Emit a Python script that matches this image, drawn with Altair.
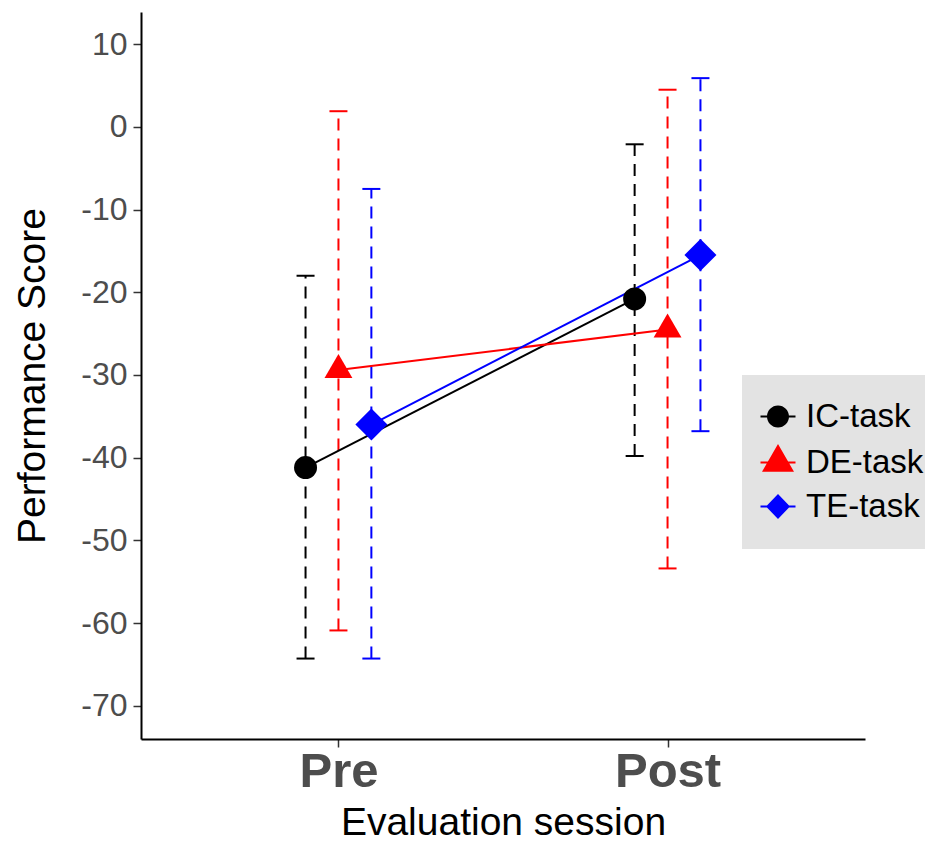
import altair as alt
import pandas as pd

FONT = "Liberation Sans"

sessions = ["Pre", "Post"]
tasks = ["IC-task", "DE-task", "TE-task"]
colors = ["#000000", "#ff0000", "#0000ff"]

mean_pre = [-41.2, -29.4, -36.0]
mean_post = [-20.8, -24.5, -15.5]
upper_pre = [-18.0, 1.9, -7.5]
upper_post = [-2.1, 4.5, 5.9]
lower_pre = [-64.3, -60.9, -64.3]
lower_post = [-39.8, -53.4, -36.8]

rows = []
for i, t in enumerate(tasks):
    rows.append(dict(session=sessions[0], task=t, mean=mean_pre[i], lo=lower_pre[i], hi=upper_pre[i]))
    rows.append(dict(session=sessions[1], task=t, mean=mean_post[i], lo=lower_post[i], hi=upper_post[i]))
df = pd.DataFrame(rows)

dodge_expr = ("(datum.session == 'Pre' ? 1 : 2) + "
              "(datum.task == 'IC-task' ? -0.1 : (datum.task == 'DE-task' ? 0 : 0.1))")

base = alt.Chart(df).transform_calculate(xpos=dodge_expr)

xenc = alt.X(
    "xpos:Q",
    scale=alt.Scale(domain=[0.4, 2.6], nice=False, zero=False),
    axis=alt.Axis(
        values=[1, 2],
        labelExpr="datum.value == 1 ? 'Pre' : 'Post'",
        title="Evaluation session",
        labelFontSize=49, labelFontWeight="bold", labelColor="#4d4d4d", labelFont=FONT,
        labelPadding=0, tickSize=8, tickWidth=1.5, tickColor="#333333",
        titleFontSize=39, titleFontWeight="normal", titleColor="black", titleFont=FONT,
        titleY=95, titleBaseline="alphabetic",
    ),
)
yscale = alt.Scale(domain=[-74.03, 13.9], nice=False, zero=False)
yaxis = alt.Axis(
    values=[-70, -60, -50, -40, -30, -20, -10, 0, 10],
    labelExpr="'' + datum.value",
    title="Performance Score",
    labelFontSize=32, labelColor="#4d4d4d", labelFont=FONT,
    labelPadding=6, tickSize=8, tickWidth=1.5, tickColor="#333333",
    titleFontSize=39, titleFontWeight="normal", titleColor="black", titleFont=FONT,
    titleX=-97, titleBaseline="alphabetic",
)
color = alt.Color("task:N", scale=alt.Scale(domain=tasks, range=colors), legend=None)

rules = base.mark_rule(strokeDash=[12, 8], strokeWidth=2).encode(
    x=xenc, y=alt.Y("lo:Q", scale=yscale, axis=yaxis), y2="hi:Q", color=color
)
cap_lo = base.mark_point(shape="stroke", size=324, strokeWidth=2, filled=False, opacity=1).encode(
    x="xpos:Q", y="lo:Q", color=color
)
cap_hi = base.mark_point(shape="stroke", size=324, strokeWidth=2, filled=False, opacity=1).encode(
    x="xpos:Q", y="hi:Q", color=color
)
lines = base.mark_line(strokeWidth=2).encode(
    x="xpos:Q", y="mean:Q", color=color, detail="task:N", order="xpos:Q"
)

tri = "M0,-1.155L1,0.577L-1,0.577Z"
points = base.mark_point(filled=True, opacity=1).encode(
    x="xpos:Q",
    y="mean:Q",
    color=color,
    shape=alt.Shape("task:N", scale=alt.Scale(domain=tasks, range=["circle", tri, "diamond"]), legend=None),
    size=alt.Size("task:N", scale=alt.Scale(domain=tasks, range=[529, 1024, 484]), legend=None),
)

bar = "M-2.3,-0.1L1.2,-0.1L1.2,0.1L-2.3,0.1Z"
leg_paths = [
    bar + "M-1.65,0A1.1,1.1 0 1,1 0.55,0A1.1,1.1 0 1,1 -1.65,0Z",
    bar + "M-0.55,-1.85L1.05,0.92L-2.15,0.92Z",
    bar + "M-0.55,-1.25L0.65,0L-0.55,1.25L-1.75,0Z",
]
leg = alt.Legend(
    title=None, orient="none", legendX=601, legendY=363,
    fillColor="#e3e3e3", padding=25,
    labelFontSize=33, labelColor="black", labelFont=FONT, labelOffset=6,
    symbolSize=400, symbolStrokeWidth=0, rowPadding=10, symbolOpacity=1,
)
legend_layer = alt.Chart(df).mark_point(filled=True, size=400, opacity=1, clip=True).encode(
    x=alt.value(-1000),
    y=alt.value(-1000),
    color=alt.Color("task:N", scale=alt.Scale(domain=tasks, range=colors), legend=leg),
    shape=alt.Shape("task:N", scale=alt.Scale(domain=tasks, range=leg_paths), legend=leg),
)

chart = (
    alt.layer(rules, cap_lo, cap_hi, lines, points, legend_layer)
    .resolve_scale(shape="independent", color="independent")
    .properties(
        width=724, height=727,
        autosize=alt.AutoSizeParams(type="none"),
        padding={"left": 133, "top": 4, "right": 60, "bottom": 103},
        background="white",
    )
    .configure_view(stroke=None)
    .configure_axis(grid=False, domainColor="black", domainWidth=2)
)

chart.save("out.html", embed_options={"renderer": "svg", "actions": False})
